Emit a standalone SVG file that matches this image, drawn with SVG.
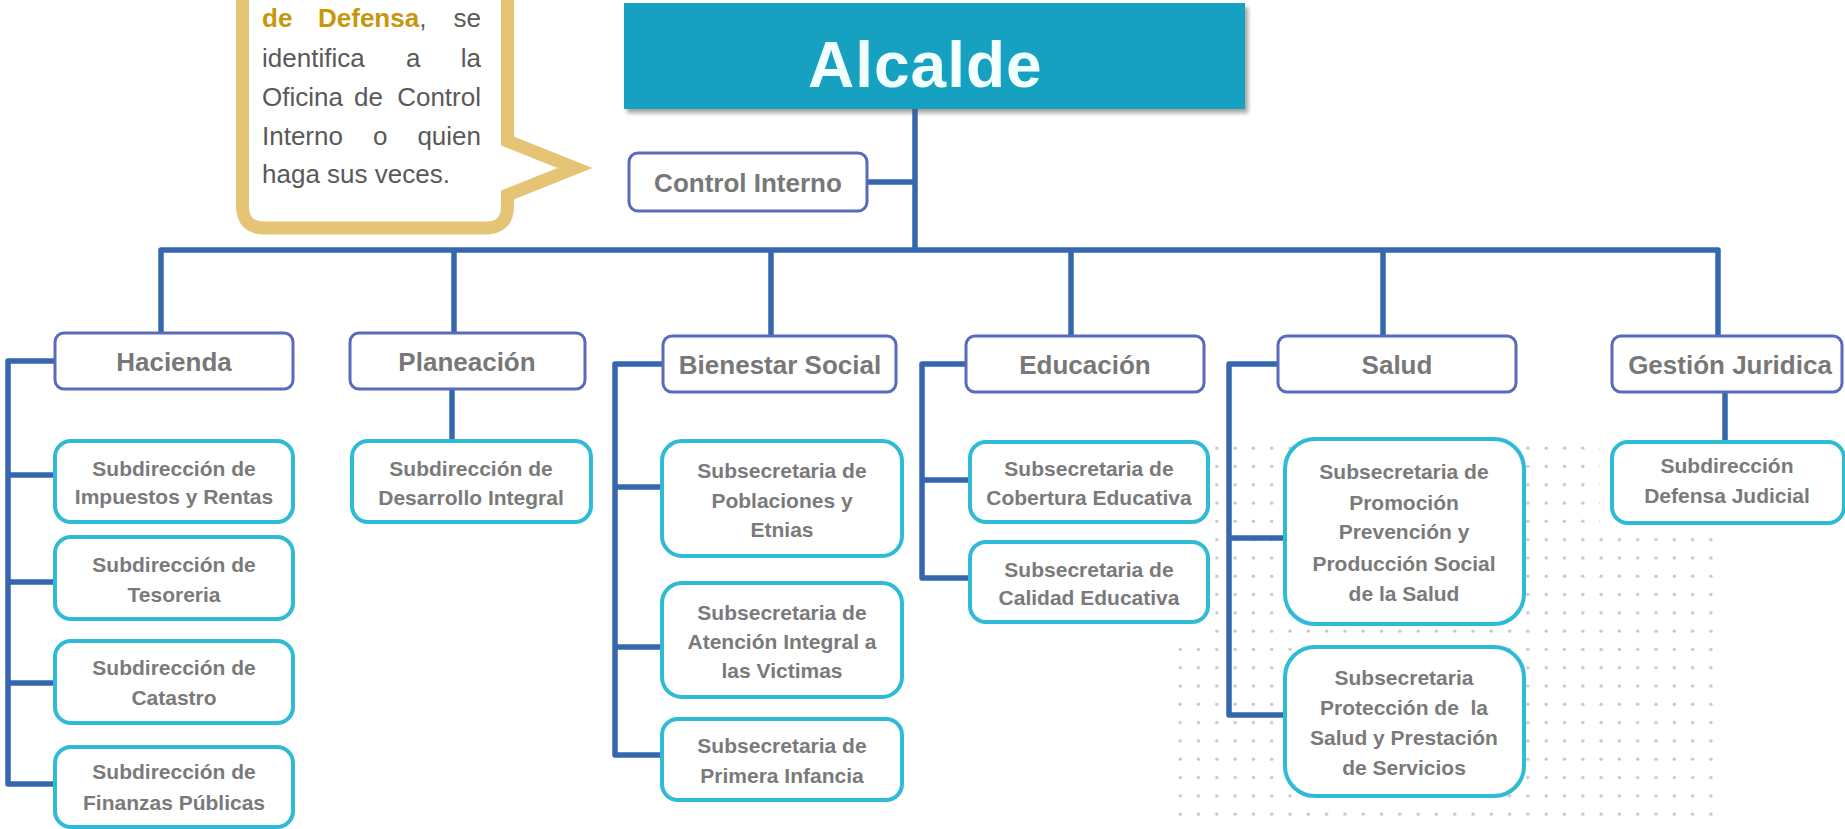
<svg xmlns="http://www.w3.org/2000/svg" width="1845" height="829" viewBox="0 0 1845 829">
<style>
.conn{fill:none;stroke:#3467AD;stroke-width:5.5;stroke-linejoin:round;stroke-linecap:butt}
.dept{fill:#fff;stroke:#5A6BBD;stroke-width:3}
.sub{fill:#fff;stroke:#2DBBD6;stroke-width:4}
.dt{font-family:"Liberation Sans",Arial,sans-serif;font-weight:bold;font-size:26px;fill:#787878;text-anchor:middle}
.st{font-family:"Liberation Sans",Arial,sans-serif;font-weight:bold;font-size:21px;fill:#7a7a7a;text-anchor:middle}
.ct{font-family:"Liberation Sans",Arial,sans-serif;font-size:26px;fill:#595959}
.gold{font-weight:bold;fill:#C8960C}
</style>
<defs>
<pattern id="dots" width="18.3" height="18.3" patternUnits="userSpaceOnUse">
<circle cx="9" cy="9" r="1.7" fill="#c2c6cf"/>
</pattern>
<filter id="shadow" x="-5%" y="-10%" width="115%" height="130%">
<feDropShadow dx="3" dy="4" stdDeviation="2" flood-color="#555" flood-opacity="0.55"/>
</filter>
</defs>
<rect width="1845" height="829" fill="#fff"/>
<polygon points="1215,441 1600,441 1600,535 1725,535 1725,829 1175,829 1175,640 1215,640" fill="url(#dots)"/>

<g id="callout">
<path d="M242.5 -40 L242.5 206 Q242.5 228 264.5 228 L485.5 228 Q507.5 228 507.5 206 L507.5 195 L575 168 L507.5 141 L507.5 -40 Z" fill="#fff" stroke="#E6C475" stroke-width="13" stroke-linejoin="miter"/>
<text class="ct" y="27"><tspan class="gold" x="262">de</tspan><tspan class="gold" x="318">Defensa</tspan><tspan>,</tspan></text>
<text class="ct" y="27" x="481" text-anchor="end">se</text>
<text class="ct" y="67" x="262">identifica</text>
<text class="ct" y="67" x="406">a</text>
<text class="ct" y="67" x="481" text-anchor="end">la</text>
<text class="ct" y="106" x="262">Oficina</text>
<text class="ct" y="106" x="354">de</text>
<text class="ct" y="106" x="481" text-anchor="end">Control</text>
<text class="ct" y="145" x="262">Interno</text>
<text class="ct" y="145" x="373">o</text>
<text class="ct" y="145" x="481" text-anchor="end">quien</text>
<text class="ct" y="183" x="262">haga sus veces.</text>
</g>

<g id="connectors">
<path class="conn" d="M915 109 V250"/>
<path class="conn" d="M867 182 H915"/>
<path class="conn" d="M161 333 V250 H1718 V336"/>
<path class="conn" d="M454 250 V333"/>
<path class="conn" d="M771 250 V336"/>
<path class="conn" d="M1071 250 V336"/>
<path class="conn" d="M1383 250 V336"/>
<path class="conn" d="M55 361 H8 V784 H55 M8 475 H55 M8 582 H55 M8 683 H55"/>
<path class="conn" d="M452 389 V441"/>
<path class="conn" d="M663 364 H615 V755 H662 M615 487 H662 M615 647 H662"/>
<path class="conn" d="M966 364 H922 V578 H970 M922 480 H970"/>
<path class="conn" d="M1278 364 H1229 V715 H1285 M1229 538 H1285"/>
<path class="conn" d="M1725 392 V442"/>
</g>

<g id="alcalde">
<rect x="624" y="3" width="621" height="106" fill="#17A1C1" filter="url(#shadow)"/>
<text x="808" y="87" font-family="Liberation Sans, Arial, sans-serif" font-weight="bold" font-size="64" letter-spacing="1" fill="#F2FFFF">Alcalde</text>
</g>

<g id="control-interno">
<rect class="dept" x="629" y="153" width="238" height="58" rx="9"/>
<text class="dt" x="748" y="192">Control Interno</text>
</g>

<g id="hacienda">
<rect class="dept" x="55" y="333" width="238" height="56" rx="9"/>
<text class="dt" x="174" y="371">Hacienda</text>
</g>
<g id="planeacion">
<rect class="dept" x="350" y="333" width="235" height="56" rx="9"/>
<text class="dt" x="467" y="371">Planeación</text>
</g>
<g id="bienestar">
<rect class="dept" x="663" y="336" width="233" height="56" rx="9"/>
<text class="dt" x="780" y="374">Bienestar Social</text>
</g>
<g id="educacion">
<rect class="dept" x="966" y="336" width="238" height="56" rx="9"/>
<text class="dt" x="1085" y="374">Educación</text>
</g>
<g id="salud">
<rect class="dept" x="1278" y="336" width="238" height="56" rx="9"/>
<text class="dt" x="1397" y="374">Salud</text>
</g>
<g id="gestion">
<rect class="dept" x="1612" y="336" width="230" height="56" rx="9"/>
<text class="dt" x="1730" y="374">Gestión Juridica</text>
</g>

<g id="sub-impuestos">
<rect class="sub" x="55" y="441" width="238" height="81" rx="16"/>
<text class="st" x="174" y="476">Subdirección de</text>
<text class="st" x="174" y="504">Impuestos y Rentas</text>
</g>
<g id="sub-tesoreria">
<rect class="sub" x="55" y="537" width="238" height="82" rx="16"/>
<text class="st" x="174" y="572">Subdirección de</text>
<text class="st" x="174" y="602">Tesoreria</text>
</g>
<g id="sub-catastro">
<rect class="sub" x="55" y="641" width="238" height="82" rx="16"/>
<text class="st" x="174" y="675">Subdirección de</text>
<text class="st" x="174" y="705">Catastro</text>
</g>
<g id="sub-finanzas">
<rect class="sub" x="55" y="747" width="238" height="80" rx="16"/>
<text class="st" x="174" y="779">Subdirección de</text>
<text class="st" x="174" y="810">Finanzas Públicas</text>
</g>

<g id="sub-desarrollo">
<rect class="sub" x="352" y="441" width="239" height="81" rx="16"/>
<text class="st" x="471" y="476">Subdirección de</text>
<text class="st" x="471" y="505">Desarrollo Integral</text>
</g>

<g id="sub-poblaciones">
<rect class="sub" x="662" y="441" width="240" height="115" rx="20"/>
<text class="st" x="782" y="478">Subsecretaria de</text>
<text class="st" x="782" y="508">Poblaciones y</text>
<text class="st" x="782" y="537">Etnias</text>
</g>
<g id="sub-victimas">
<rect class="sub" x="662" y="583" width="240" height="114" rx="20"/>
<text class="st" x="782" y="620">Subsecretaria de</text>
<text class="st" x="782" y="649">Atención Integral a</text>
<text class="st" x="782" y="678">las Victimas</text>
</g>
<g id="sub-infancia">
<rect class="sub" x="662" y="719" width="240" height="81" rx="16"/>
<text class="st" x="782" y="753">Subsecretaria de</text>
<text class="st" x="782" y="783">Primera Infancia</text>
</g>

<g id="sub-cobertura">
<rect class="sub" x="970" y="442" width="238" height="80" rx="16"/>
<text class="st" x="1089" y="476">Subsecretaria de</text>
<text class="st" x="1089" y="505">Cobertura Educativa</text>
</g>
<g id="sub-calidad">
<rect class="sub" x="970" y="542" width="238" height="80" rx="16"/>
<text class="st" x="1089" y="577">Subsecretaria de</text>
<text class="st" x="1089" y="605">Calidad Educativa</text>
</g>

<g id="sub-promocion">
<rect class="sub" x="1285" y="439" width="239" height="185" rx="30"/>
<text class="st" x="1404" y="479">Subsecretaria de</text>
<text class="st" x="1404" y="510">Promoción</text>
<text class="st" x="1404" y="539">Prevención y</text>
<text class="st" x="1404" y="571">Producción Social</text>
<text class="st" x="1404" y="601">de la Salud</text>
</g>
<g id="sub-proteccion">
<rect class="sub" x="1285" y="647" width="239" height="149" rx="30"/>
<text class="st" x="1404" y="685">Subsecretaria</text>
<text class="st" x="1404" y="715" style="white-space:pre">Protección de  la</text>
<text class="st" x="1404" y="745">Salud y Prestación</text>
<text class="st" x="1404" y="775">de Servicios</text>
</g>

<g id="sub-defensa">
<rect class="sub" x="1612" y="442" width="232" height="81" rx="16"/>
<text class="st" x="1727" y="473">Subdirección</text>
<text class="st" x="1727" y="503">Defensa Judicial</text>
</g>
</svg>
